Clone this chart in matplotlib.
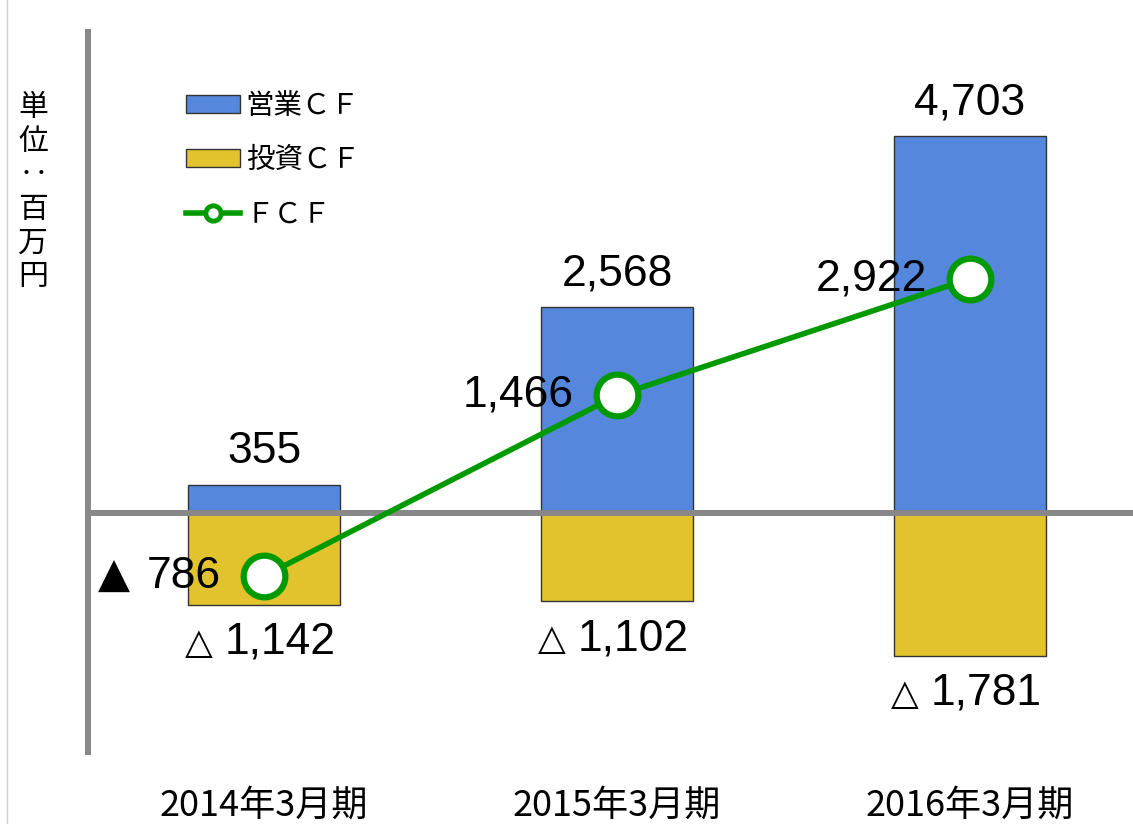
import matplotlib.pyplot as plt
from matplotlib.lines import Line2D
from matplotlib.patches import Patch

periods = ['2014年3月期', '2015年3月期', '2016年3月期']
operating_cf = [355, 2568, 4703]
investing_cf = [-1142, -1102, -1781]
free_cf = [-786, 1466, 2922]

BLUE = '#5587dd'
YELLOW = '#e2c32e'
GREEN = '#009a00'
GRAY = '#888888'

NUM_FONT = ['Liberation Sans', 'DejaVu Sans']
JP_FONT = ['Noto Sans CJK JP', 'DejaVu Sans']

fig = plt.figure(figsize=(11.33, 8.24), dpi=100)
ax = fig.add_axes([88 / 1133, 72 / 824, 1 - 88 / 1133, 720 / 824])

x = list(range(len(periods)))
ax.bar(x, operating_cf, width=0.433, color=BLUE, edgecolor='#333333', linewidth=1, zorder=2)
ax.bar(x, investing_cf, width=0.433, color=YELLOW, edgecolor='#333333', linewidth=1, zorder=2)
ax.axhline(0, color=GRAY, lw=4.3, zorder=3)
ax.plot(x, free_cf, color=GREEN, lw=4.0, marker='o', ms=30, mfc='white',
        mec=GREEN, mew=4.5, zorder=4)

# value labels (points; 1px = 0.72pt)
for i, v in enumerate(operating_cf):
    ax.annotate('{:,}'.format(v), (i, v), xytext=(0, 24), textcoords='offset points',
                ha='center', va='center', fontsize=32, family=NUM_FONT)
for i, v in enumerate(investing_cf):
    ax.annotate('{:,}'.format(-v), (i, v), xytext=(-28, -27), textcoords='offset points',
                ha='left', va='center', fontsize=32, family=NUM_FONT)
    ax.annotate('△', (i, v), xytext=(-47, -28), textcoords='offset points',
                ha='center', va='center', fontsize=26, family=['DejaVu Sans'])
for i, v in enumerate(free_cf):
    ax.annotate('{:,}'.format(abs(v)), (i, v), xytext=(-31, 0), textcoords='offset points',
                ha='right', va='center', fontsize=32, family=NUM_FONT, zorder=3)
    if v < 0:
        ax.annotate('▲', (i, v), xytext=(-108, 0), textcoords='offset points',
                    ha='center', va='center', fontsize=30, family=['DejaVu Sans'])

ax.set_xlim(-0.4986, 2.4618)
ax.set_ylim(-2980, 5998)
ax.set_yticks([])
ax.set_xticks(x)
ax.set_xticklabels(periods, fontsize=26, family=JP_FONT)
ax.tick_params(axis='x', length=0, pad=26)
for s in ['top', 'right', 'bottom']:
    ax.spines[s].set_visible(False)
ax.spines['left'].set_color(GRAY)
ax.spines['left'].set_linewidth(4.3)

handles = [
    Patch(facecolor=BLUE, edgecolor='#333333', linewidth=1),
    Patch(facecolor=YELLOW, edgecolor='#333333', linewidth=1),
    Line2D([], [], color=GREEN, lw=4.0, marker='o', ms=11, mfc='white', mec=GREEN, mew=3.5),
]
leg = fig.legend(handles, ['営業ＣＦ', '投資ＣＦ', 'ＦＣＦ'],
                 loc='upper left', bbox_to_anchor=(186 / 1133, 1 - 91 / 824),
                 frameon=False, prop={'family': JP_FONT, 'size': 20.5},
                 handlelength=1.9, handleheight=0.6, labelspacing=0.85,
                 handletextpad=0.2, borderaxespad=0, borderpad=0)

fig.text(33 / 1133, 1 - 92 / 824, '単\n位\n‥\n百\n万\n円', ha='center', va='top',
         fontsize=21.5, family=JP_FONT, linespacing=1.12)

fig.add_artist(Line2D([7 / 1133, 7 / 1133], [0, 1], color='#d0d0d0', lw=1))

fig.savefig('out.png', dpi=100)
